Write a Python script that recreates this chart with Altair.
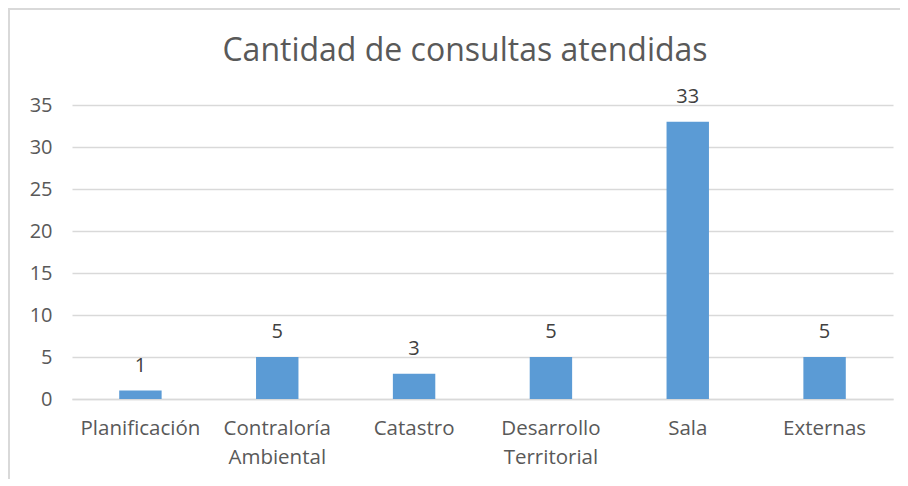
import altair as alt
import pandas as pd

categories = ["Planificación", "Contraloría Ambiental", "Catastro", "Desarrollo Territorial", "Sala", "Externas"]
values = [1, 5, 3, 5, 33, 5]
title_text = ["Cantidad de consultas atendidas"]

df = pd.DataFrame({"cat": categories, "val": values})

FONT = "Open Sans"

base = alt.Chart(df)

x = alt.X("cat:N", sort=categories, title=None,
          scale=alt.Scale(paddingInner=0.69, paddingOuter=0.345),
          axis=alt.Axis(labelAngle=0, labelFontSize=20.5, labelColor="#595959", labelFont=FONT,
                        labelExpr="split(datum.label, ' ')", labelPadding=19, labelLineHeight=29,
                        ticks=False, domainColor="#d9d9d9", domainWidth=1.3, labelLimit=200))
y = alt.Y("val:Q", title=None,
          scale=alt.Scale(domain=[0, 35], nice=False),
          axis=alt.Axis(values=[0, 5, 10, 15, 20, 25, 30, 35], labelFontSize=20, labelColor="#595959",
                        labelFont=FONT, labelPadding=20, ticks=False, domain=False,
                        gridColor="#d9d9d9", gridWidth=1.3))

bars = base.mark_bar(color="#5B9BD5").encode(x=x, y=y)
labels = base.mark_text(dy=-25, fontSize=20, color="#404040", font=FONT).encode(
    x=alt.X("cat:N", sort=categories), y="val:Q", text="val:Q")

title = alt.Chart(pd.DataFrame({"t": title_text})).mark_text(
    fontSize=32, font=FONT, color="#595959", align="center", baseline="middle").encode(
    x=alt.value(393), y=alt.value(-54), text="t:N")

border = alt.Chart(pd.DataFrame({"a": [0]})).mark_rect(fill=None, stroke="#d9d9d9", strokeWidth=2).encode(
    x=alt.value(-63), x2=alt.value(900), y=alt.value(-96), y2=alt.value(420))

chart = alt.layer(border, title, bars, labels).properties(
    width=821, height=294,
    autosize=alt.AutoSizeParams(type="none"),
    padding={"left": 64, "top": 97, "right": 7, "bottom": 80},
).configure_view(stroke=None)

chart.save("out.html", embed_options={"renderer": "svg", "actions": False})
